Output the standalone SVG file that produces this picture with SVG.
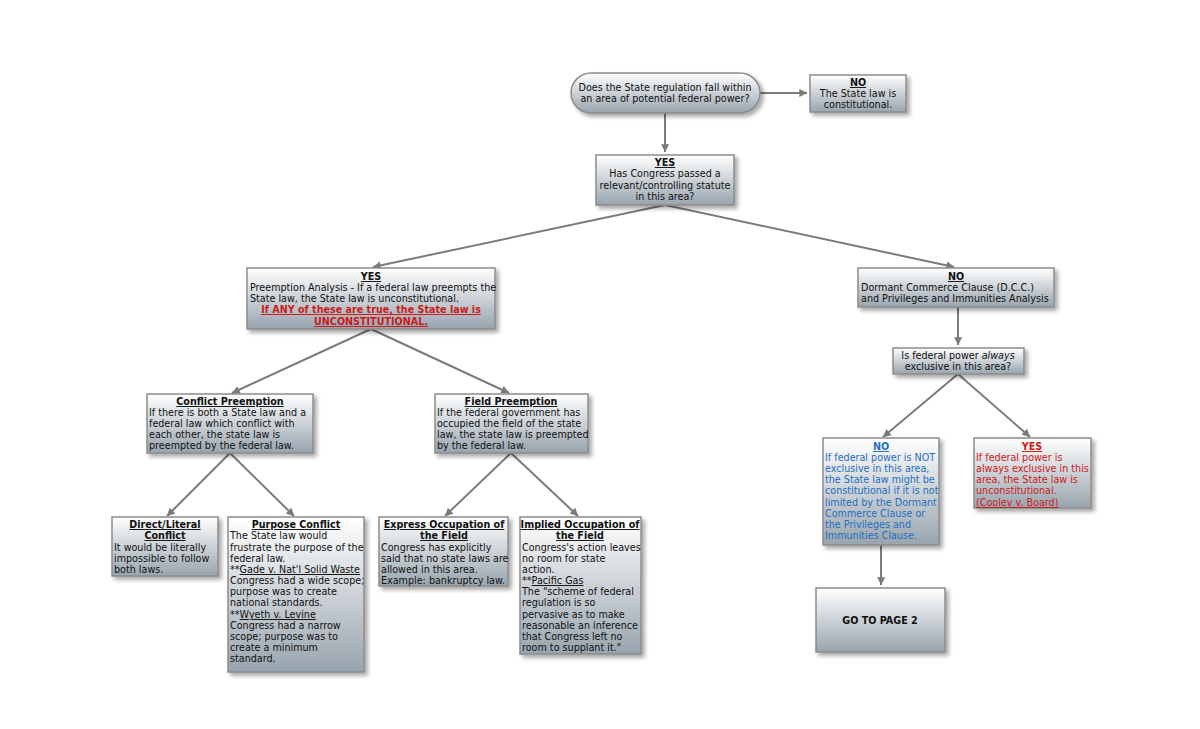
<svg xmlns="http://www.w3.org/2000/svg" width="1200" height="729" viewBox="0 0 1200 729">
<defs>
<linearGradient id="g" x1="0" y1="0" x2="0" y2="1"><stop offset="0" stop-color="#ffffff"/><stop offset="1" stop-color="#98a4ae"/></linearGradient>
<filter id="sh" x="-10%" y="-10%" width="130%" height="140%"><feDropShadow dx="3" dy="3" stdDeviation="2" flood-color="#000" flood-opacity="0.35"/></filter>
<marker id="ar" viewBox="0 0 10 10" refX="9" refY="5" markerWidth="5" markerHeight="5" orient="auto" markerUnits="userSpaceOnUse" style="overflow:visible"><path d="M0,0 L10,5 L0,10 z" fill="#7b7b7b" transform="scale(1.6) translate(-4,-2)"/></marker>
</defs>
<style>
.b{fill:url(#g);stroke:#8c8c8c;stroke-width:1.5;filter:url(#sh)}
text{font-family:"DejaVu Sans",Verdana,sans-serif;font-size:9.6px;fill:#111}
.c{text-anchor:middle}
.h{font-weight:bold;text-decoration:underline}
.u{text-decoration:underline}
.blue{fill:#1f6fc0}
.red{fill:#cc1a1a}
#connectors line{stroke:#7b7b7b;stroke-width:2;marker-end:url(#ar)}
</style>
<rect width="1200" height="729" fill="#fff"/>
<g id="connectors">
<line x1="760" y1="93" x2="807" y2="93"/>
<line x1="665" y1="113" x2="665" y2="152"/>
<line x1="665" y1="205" x2="373" y2="267"/>
<line x1="665" y1="205" x2="954" y2="267"/>
<line x1="958" y1="307" x2="958" y2="345"/>
<line x1="371" y1="329" x2="232" y2="393"/>
<line x1="371" y1="329" x2="509" y2="393"/>
<line x1="230" y1="453" x2="167" y2="516"/>
<line x1="230" y1="453" x2="294" y2="516"/>
<line x1="511" y1="453" x2="445" y2="516"/>
<line x1="511" y1="453" x2="578" y2="516"/>
<line x1="958" y1="374" x2="883" y2="437"/>
<line x1="958" y1="374" x2="1030" y2="437"/>
<line x1="881" y1="545" x2="881" y2="585"/>
</g>
<g id="q1"><rect class="b" x="571" y="73" width="189" height="40" rx="20"/>
<text class="c" x="665" y="91">Does the State regulation fall within</text><text class="c" x="665" y="102">an area of potential federal power?</text></g>
<g id="no1"><rect class="b" x="810" y="75" width="96" height="37"/>
<text class="c h" x="858" y="86">NO</text><text class="c" x="858" y="97">The State law is</text><text class="c" x="858" y="108">constitutional.</text></g>
<g id="yes1"><rect class="b" x="596" y="155" width="138" height="50"/>
<text class="c h" x="665" y="166">YES</text><text class="c" x="665" y="177">Has Congress passed a</text><text class="c" x="665" y="189">relevant/controlling statute</text><text class="c" x="665" y="200">in this area?</text></g>
<g id="preempt"><rect class="b" x="247" y="268" width="248" height="61"/>
<text class="c h" x="371" y="280">YES</text>
<text x="250" y="291">Preemption Analysis - If a federal law preempts the</text>
<text x="250" y="302">State law, the State law is unconstitutional.</text>
<text class="c h red" x="371" y="313">If ANY of these are true, the State law is</text>
<text class="c h red" x="371" y="325">UNCONSTITUTIONAL.</text></g>
<g id="dcc"><rect class="b" x="858" y="268" width="196" height="39"/>
<text class="c h" x="956" y="280">NO</text>
<text x="861" y="291">Dormant Commerce Clause (D.C.C.)</text>
<text x="861" y="302">and Privileges and Immunities Analysis</text></g>
<g id="always"><rect class="b" x="893" y="348" width="131" height="26"/>
<text class="c" x="958" y="359">Is federal power <tspan font-style="italic">always</tspan></text>
<text class="c" x="958" y="370">exclusive in this area?</text></g>
<g id="conflict"><rect class="b" x="147" y="394" width="166" height="59"/>
<text class="c h" x="230" y="405">Conflict Preemption</text>
<text x="149" y="416">If there is both a State law and a</text>
<text x="149" y="427">federal law which conflict with</text>
<text x="149" y="438">each other, the state law is</text>
<text x="149" y="449">preempted by the federal law.</text></g>
<g id="field"><rect class="b" x="435" y="394" width="153" height="59"/>
<text class="c h" x="511" y="405">Field Preemption</text>
<text x="437" y="416">If the federal government has</text>
<text x="437" y="427">occupied the field of the state</text>
<text x="437" y="438">law, the state law is preempted</text>
<text x="437" y="449">by the federal law.</text></g>
<g id="direct"><rect class="b" x="112" y="517" width="106" height="59"/>
<text class="c h" x="165" y="528">Direct/Literal</text>
<text class="c h" x="165" y="539">Conflict</text>
<text x="114" y="551">It would be literally</text>
<text x="114" y="562">impossible to follow</text>
<text x="114" y="573">both laws.</text></g>
<g id="purpose"><rect class="b" x="228" y="517" width="136" height="155"/>
<text class="c h" x="296" y="528">Purpose Conflict</text>
<text x="230" y="539">The State law would</text>
<text x="230" y="551">frustrate the purpose of the</text>
<text x="230" y="562">federal law.</text>
<text x="230" y="573">**<tspan class="u">Gade v. Nat'l Solid Waste</tspan></text>
<text x="230" y="584">Congress had a wide scope;</text>
<text x="230" y="595">purpose was to create</text>
<text x="230" y="606">national standards.</text>
<text x="230" y="618">**<tspan class="u">Wyeth v. Levine</tspan></text>
<text x="230" y="629">Congress had a narrow</text>
<text x="230" y="640">scope; purpose was to</text>
<text x="230" y="651">create a minimum</text>
<text x="230" y="662">standard.</text></g>
<g id="express"><rect class="b" x="379" y="517" width="129" height="69"/>
<text class="c h" x="444" y="528">Express Occupation of</text>
<text class="c h" x="444" y="539">the Field</text>
<text x="381" y="551">Congress has explicitly</text>
<text x="381" y="562">said that no state laws are</text>
<text x="381" y="573">allowed in this area.</text>
<text x="381" y="584">Example: bankruptcy law.</text></g>
<g id="implied"><rect class="b" x="520" y="517" width="121" height="137"/>
<text class="c h" x="580" y="528">Implied Occupation of</text>
<text class="c h" x="580" y="539">the Field</text>
<text x="522" y="551">Congress's action leaves</text>
<text x="522" y="562">no room for state</text>
<text x="522" y="573">action.</text>
<text x="522" y="584">**<tspan class="u">Pacific Gas</tspan></text>
<text x="522" y="595">The "scheme of federal</text>
<text x="522" y="606">regulation is so</text>
<text x="522" y="618">pervasive as to make</text>
<text x="522" y="629">reasonable an inference</text>
<text x="522" y="640">that Congress left no</text>
<text x="522" y="651">room to supplant it."</text></g>
<g id="no2"><rect class="b" x="823" y="438" width="116" height="107"/>
<text class="c h blue" x="881" y="450">NO</text>
<text class="blue" x="825" y="461">If federal power is NOT</text>
<text class="blue" x="825" y="472">exclusive in this area,</text>
<text class="blue" x="825" y="483">the State law might be</text>
<text class="blue" x="825" y="494">constitutional if it is not</text>
<text class="blue" x="825" y="506">limited by the Dormant</text>
<text class="blue" x="825" y="517">Commerce Clause or</text>
<text class="blue" x="825" y="528">the Privileges and</text>
<text class="blue" x="825" y="539">Immunities Clause.</text></g>
<g id="yes2"><rect class="b" x="974" y="438" width="117" height="70"/>
<text class="c h red" x="1032" y="450">YES</text>
<text class="red" x="976" y="461">If federal power is</text>
<text class="red" x="976" y="472">always exclusive in this</text>
<text class="red" x="976" y="483">area, the State law is</text>
<text class="red" x="976" y="494">unconstitutional.</text>
<text class="red u" x="976" y="506">(Cooley v. Board)</text></g>
<g id="page2"><rect class="b" x="816" y="588" width="129" height="64"/>
<text class="c" x="880" y="624" font-weight="bold" font-size="11.5px">GO TO PAGE 2</text></g>
</svg>
